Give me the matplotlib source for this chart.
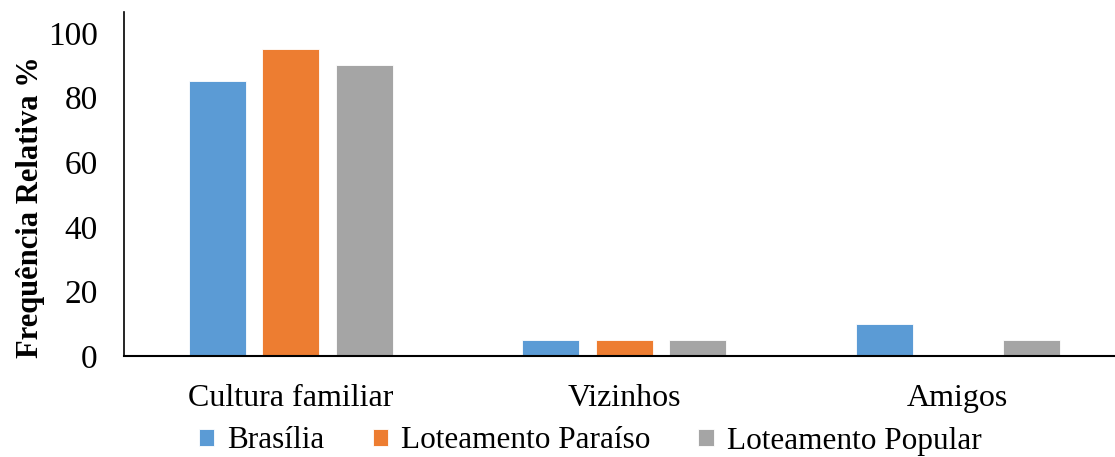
import matplotlib
matplotlib.use("Agg")
import matplotlib.pyplot as plt
import numpy as np

categories = ["Cultura familiar", "Vizinhos", "Amigos"]
series_names = ["Brasília", "Loteamento Paraíso", "Loteamento Popular"]
brasilia = [85, 5, 10]
loteamento_paraiso = [95, 5, 0]
loteamento_popular = [90, 5, 5]
y_ticks = [0, 20, 40, 60, 80, 100]

colors = ["#5B9BD5", "#ED7D31", "#A5A5A5"]
serif = ["Liberation Serif", "DejaVu Serif"]

fig = plt.figure(figsize=(11.15, 4.57), dpi=100)
ax = fig.add_axes([0.1112, 0.221, 0.8973, 0.7527])

x = np.arange(len(categories))
width = 0.171
step = 0.221
for i, (vals, name, c) in enumerate(zip([brasilia, loteamento_paraiso, loteamento_popular],
                                         series_names, colors)):
    ax.bar(x + (i - 1) * step, vals, width, color=c, label=name,
           edgecolor="white", linewidth=0.6)

ax.set_xlim(-0.5, 2.5)
ax.set_ylim(0, 106.5)
ax.set_yticks(y_ticks)
ax.set_yticklabels([str(t) for t in y_ticks], family=serif, fontsize=24)
ax.set_xticks(x)
ax.set_xticklabels(categories, family=serif, fontsize=23)
ax.tick_params(axis="both", length=0)
ax.tick_params(axis="y", pad=19)
ax.tick_params(axis="x", pad=20)

for s in ["top", "right"]:
    ax.spines[s].set_visible(False)
ax.spines["left"].set_linewidth(1.2)
ax.spines["bottom"].set_linewidth(1.5)

ax.set_ylabel("Frequência Relativa %", family=serif, fontsize=22, fontweight="bold",
              va="center", ha="center")
ax.yaxis.set_label_coords(-0.093, 0.432)

leg = fig.legend(loc="center", bbox_to_anchor=(590 / 1115, 1 - 441 / 457), ncol=3,
                 frameon=False, prop={"family": serif, "size": 22.5},
                 handlelength=0.5, handleheight=0.5, handletextpad=0.4,
                 columnspacing=1.55)

fig.savefig("out.png", dpi=100)
